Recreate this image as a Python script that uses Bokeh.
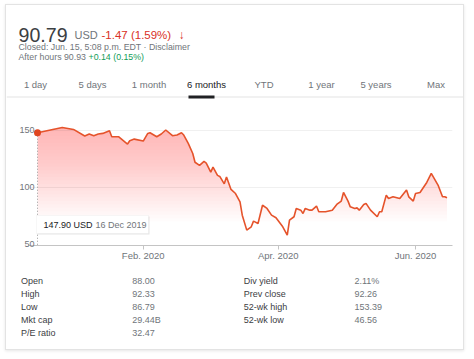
import numpy as np
import pandas as pd
from datetime import datetime
from bokeh.plotting import figure
from bokeh.layouts import column
from bokeh.models import Range1d, FixedTicker, DatetimeTickFormatter, BoxAnnotation, Label
from bokeh.embed import file_html
from bokeh.resources import INLINE
from bokeh.core.properties import value

FONT = "Liberation Sans"
GRAY = "#70757a"
DARK = "#202124"
RED = "#d93025"
GREEN = "#0f9d58"

# ---------------- header texts ----------------
price = "90.79"
currency = "USD"
change = "-1.47 (1.59%)"
arrow = "↓"
closed_note = "Closed: Jun. 15, 5:08 p.m. EDT · Disclaimer"
after_hours = "After hours 90.93"
after_change = "+0.14 (0.15%)"
tabs = ["1 day", "5 days", "1 month", "6 months", "YTD", "1 year", "5 years", "Max"]
active_tab = "6 months"

# ---------------- price series ----------------
dates = ["2019-12-16", "2019-12-27", "2020-01-01", "2020-01-06", "2020-01-08", "2020-01-10",
         "2020-01-12", "2020-01-14", "2020-01-17", "2020-01-18", "2020-01-21", "2020-01-25",
         "2020-01-26", "2020-01-28", "2020-02-01", "2020-02-03", "2020-02-04", "2020-02-07",
         "2020-02-09", "2020-02-11", "2020-02-14", "2020-02-16", "2020-02-18", "2020-02-19",
         "2020-02-21", "2020-02-23", "2020-02-24", "2020-02-26", "2020-02-28", "2020-02-29",
         "2020-03-02", "2020-03-03", "2020-03-05", "2020-03-06", "2020-03-08", "2020-03-09",
         "2020-03-11", "2020-03-13", "2020-03-15", "2020-03-16", "2020-03-18", "2020-03-20",
         "2020-03-21", "2020-03-23", "2020-03-25", "2020-03-27", "2020-03-29", "2020-03-31",
         "2020-04-03", "2020-04-05", "2020-04-06", "2020-04-08", "2020-04-09", "2020-04-11",
         "2020-04-12", "2020-04-13", "2020-04-15", "2020-04-16", "2020-04-18", "2020-04-19",
         "2020-04-22", "2020-04-25", "2020-04-27", "2020-04-29", "2020-04-30", "2020-05-02",
         "2020-05-03", "2020-05-05", "2020-05-06", "2020-05-07", "2020-05-09", "2020-05-10",
         "2020-05-12", "2020-05-15", "2020-05-16", "2020-05-17", "2020-05-19", "2020-05-20",
         "2020-05-22", "2020-05-25", "2020-05-28", "2020-05-29", "2020-05-31", "2020-06-01",
         "2020-06-03", "2020-06-06", "2020-06-08", "2020-06-11", "2020-06-13", "2020-06-14",
         "2020-06-15"]
values = [147.9, 152.5, 150.8, 145.0, 146.8, 145.3, 146.8, 147.3, 149.6, 144.4, 144.4, 138.0,
          140.9, 142.3, 140.6, 147.3, 147.9, 144.4, 146.8, 150.3, 145.3, 145.9, 147.9, 145.9,
          138.5, 129.7, 122.0, 119.2, 122.7, 121.2, 113.3, 117.7, 110.5, 109.6, 103.1, 109.0,
          98.2, 94.6, 87.3, 75.6, 62.5, 65.4, 70.4, 68.3, 84.3, 81.5, 75.6, 73.3,
          65.4, 58.0, 71.3, 74.2, 81.5, 80.0, 77.1, 81.5, 80.0, 80.0, 83.6, 78.6,
          78.6, 80.0, 85.0, 88.0, 95.5, 87.9, 82.9, 81.5, 82.0, 80.0, 85.0, 85.9,
          80.0, 74.2, 78.6, 78.6, 93.2, 90.2, 91.7, 90.2, 97.6, 91.7, 87.9, 94.6,
          95.5, 104.3, 112.2, 102.0, 91.7, 91.7, 90.8]
y_ticks = [50, 100, 150]
x_tick_dates = ["2020-02-01", "2020-04-01", "2020-06-01"]
x_tick_labels = ["Feb. 2020", "Apr. 2020", "Jun. 2020"]
tooltip_price = "147.90 USD"
tooltip_date = "16 Dec 2019"

# ---------------- key stats ----------------
stat_labels_left = ["Open", "High", "Low", "Mkt cap", "P/E ratio"]
stat_values_left = ["88.00", "92.33", "86.79", "29.44B", "32.47"]
stat_labels_right = ["Div yield", "Prev close", "52-wk high", "52-wk low"]
stat_values_right = ["2.11%", "92.26", "153.39", "46.56"]

W = 457

def blank_fig(h):
    f = figure(width=W, height=h, x_range=Range1d(0, W), y_range=Range1d(h, 0),
               min_border=0, output_backend="svg", toolbar_location=None,
               x_axis_location=None, y_axis_location=None, frame_align=False)
    f.grid.visible = False
    f.outline_line_color = None
    f.border_fill_color = "white"
    f.background_fill_color = "white"
    return f

def txt(f, x, y, s, size, color, align="left", baseline="alphabetic", style="normal"):
    f.text(x=[x], y=[y], text=[s], text_font=value(FONT), text_font_size=size,
           text_color=color, text_align=align, text_baseline=baseline,
           text_font_style=style)

# ---------------- header figure ----------------
HA = 95
pa = blank_fig(HA)
txt(pa, 12, 29, price, "19.6px", "#3c4043")
txt(pa, 68, 29, currency, "11px", GRAY)
txt(pa, 95, 29, change, "11.5px", RED)
txt(pa, 172, 29, arrow, "12px", RED, style="bold")
txt(pa, 12, 41.7, closed_note, "8.8px", GRAY)
txt(pa, 12, 51.5, after_hours, "8.8px", GRAY)
txt(pa, 82, 51.5, after_change, "8.8px", GREEN)
tab_centers = [29, 86, 142.5, 200, 257.5, 315, 369.5, 429.5]
for cx, t in zip(tab_centers, tabs):
    txt(pa, cx, 78.5, t, "9.5px", DARK if t == active_tab else GRAY, align="center")
pa.segment(x0=[0], y0=[91.5], x1=[W], y1=[91.5], line_color="#e3e3e3", line_width=1)
pa.quad(left=[182], right=[208], top=[90], bottom=[93], fill_color="#202124", line_color=None)

# ---------------- chart figure ----------------
dt = pd.to_datetime(dates)
vals = np.array(values, dtype=float)
x_start = datetime(2019, 12, 12)
x_end = datetime(2020, 6, 17, 10, 30)
y_lo, y_hi = 49, 167.4
pb = figure(width=W, height=166, x_axis_type="datetime",
            x_range=Range1d(x_start, x_end), y_range=Range1d(y_lo, y_hi),
            min_border_left=22, min_border_right=11, min_border_top=10, min_border_bottom=21,
            output_backend="svg", toolbar_location=None, frame_align=False)
pb.outline_line_color = None
pb.border_fill_color = "white"
pb.xgrid.visible = False
pb.ygrid.ticker = FixedTicker(ticks=[t for t in y_ticks if t > y_ticks[0]])
pb.ygrid.grid_line_color = "#f0f0f0"

# layered translucent fill imitating the vertical gradient
for lvl in np.arange(70, 153, 3):
    pb.varea(x=dt, y1=float(lvl), y2=np.maximum(vals, lvl), fill_color="#ee4d70",
             fill_alpha=0.02)

pb.segment(x0=[dt[0]], y0=[vals[0]], x1=[dt[0]], y1=[y_lo], line_color="#9a9a9a",
           line_width=1, line_dash="1 2")
pb.line(dt, vals, line_color="#e5532b", line_width=1.6)
pb.scatter([dt[0]], [vals[0]], size=7, fill_color="#e0441e", line_color=None)

xa = pb.xaxis[0]
tick_ms = [pd.Timestamp(d).timestamp() * 1000 for d in x_tick_dates]
xa.ticker = FixedTicker(ticks=tick_ms)
xa.formatter = DatetimeTickFormatter(months="%b. %Y", days="%b. %Y")
xa.major_label_overrides = {t: l for t, l in zip(tick_ms, x_tick_labels)}
xa.axis_line_color = "#c4c4c4"
xa.major_tick_line_color = "#c4c4c4"
xa.major_tick_out = 4
xa.major_tick_in = 0
xa.minor_tick_line_color = None
xa.major_label_standoff = 0
xa.major_label_text_font = FONT
xa.major_label_text_font_size = "9.5px"
xa.major_label_text_color = GRAY

ya = pb.yaxis[0]
ya.ticker = FixedTicker(ticks=y_ticks)
ya.axis_line_color = None
ya.major_tick_line_color = None
ya.minor_tick_line_color = None
ya.major_tick_out = 0
ya.major_tick_in = 0
ya.major_label_standoff = -6
ya.major_label_text_font = FONT
ya.major_label_text_font_size = "9px"
ya.major_label_text_color = GRAY

# tooltip card at the first point
pb.add_layout(BoxAnnotation(left=9, right=121, bottom=11, top=29,
                            left_units="screen", right_units="screen",
                            bottom_units="screen", top_units="screen",
                            fill_color="black", fill_alpha=0.10, line_color=None))
pb.add_layout(BoxAnnotation(left=8, right=120, bottom=12, top=30,
                            left_units="screen", right_units="screen",
                            bottom_units="screen", top_units="screen",
                            fill_color="white", fill_alpha=1.0, line_color="#e4e4e4",
                            line_width=1))
pb.add_layout(Label(x=15, y=21, x_units="screen", y_units="screen", text=tooltip_price,
                    text_font=FONT, text_font_size="9px", text_color=DARK,
                    text_baseline="middle"))
pb.add_layout(Label(x=67, y=21, x_units="screen", y_units="screen", text=tooltip_date,
                    text_font=FONT, text_font_size="9px", text_color=GRAY,
                    text_baseline="middle"))

# ---------------- stats figure ----------------
HC = 83
pc = blank_fig(HC)
row_y = [14.3 + 13.1 * i for i in range(len(stat_labels_left))]
for i, (lab, val) in enumerate(zip(stat_labels_left, stat_values_left)):
    txt(pc, 14.5, row_y[i], lab, "9px", "#3c4043", baseline="middle")
    txt(pc, 125.7, row_y[i], val, "9px", GRAY, baseline="middle")
for i, (lab, val) in enumerate(zip(stat_labels_right, stat_values_right)):
    txt(pc, 237.3, row_y[i], lab, "9px", "#3c4043", baseline="middle")
    txt(pc, 348, row_y[i], val, "9px", GRAY, baseline="middle")

col = column(pa, pb, pc, spacing=0, margin=(4, 0, 0, 5),
             styles={"border": "1px solid #e3e3e3",
                     "box-shadow": "0 1px 3px rgba(0,0,0,0.10)"})

open("out.html", "w").write(file_html(col, INLINE))
